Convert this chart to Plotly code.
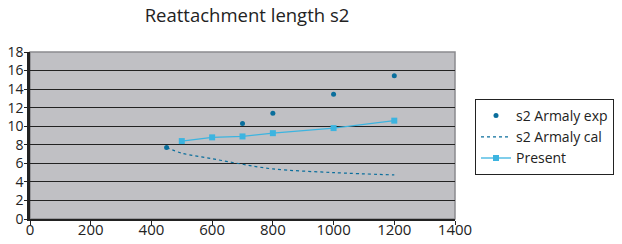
import plotly.graph_objects as go

exp_x = [450, 700, 800, 1000, 1200]
exp_y = [7.7, 10.3, 11.4, 13.45, 15.45]
cal_x = [450, 500, 600, 700, 800, 1000, 1200]
cal_y = [7.7, 7.1, 6.5, 5.9, 5.4, 5.0, 4.75]
pre_x = [500, 600, 700, 800, 1000, 1200]
pre_y = [8.4, 8.8, 8.9, 9.25, 9.8, 10.6]

x_ticks = [0, 200, 400, 600, 800, 1000, 1200, 1400]
y_ticks = [0, 2, 4, 6, 8, 10, 12, 14, 16, 18]

FONT = "Open Sans"
W, H = 614, 236  # page body adds an 8px margin
fig = go.Figure()
fig.add_trace(go.Scatter(x=exp_x, y=exp_y, mode="markers", name="s2 Armaly exp",
                         marker=dict(color="#0a6e9c", size=5, symbol="circle")))
fig.add_trace(go.Scatter(x=cal_x, y=cal_y, mode="lines", name="s2 Armaly cal",
                         line=dict(color="#0a6e9c", width=1.2, dash="dot", shape="spline")))
fig.add_trace(go.Scatter(x=pre_x, y=pre_y, mode="lines+markers", name="Present",
                         line=dict(color="#3cb4e0", width=1.3),
                         marker=dict(color="#3cb4e0", size=6, symbol="square")))

fig.update_layout(
    width=W, height=H,
    margin=dict(l=22, r=167, t=44, b=25),
    paper_bgcolor="white", plot_bgcolor="#c0c0c4",
    font=dict(family=FONT, size=15, color="#222222"),
    title=dict(text="Reattachment length s2", x=239/W, xanchor="center",
               yref="container", y=1 - 1/H, yanchor="top",
               font=dict(family=FONT, size=18.5, color="#222222")),
    legend=dict(xref="container", yref="container", x=467/W, y=1 - 91/H,
                xanchor="left", yanchor="top",
                bordercolor="#222222", borderwidth=1, bgcolor="white",
                font=dict(family=FONT, size=14, color="#222222"),
                itemwidth=30, tracegroupgap=0),
    showlegend=True,
)
fig.update_xaxes(range=[0, 1400], tickvals=x_ticks, ticktext=[str(v) for v in x_ticks],
                 showgrid=False, zeroline=False, showline=True, linecolor="#222222", linewidth=1.5,
                 ticks="outside", ticklen=4, tickcolor="#222222", automargin=False,
                 ticklabelstandoff=-8, tickfont=dict(family=FONT, size=15))
fig.update_yaxes(range=[0, 18], tickvals=y_ticks, ticktext=[str(v) for v in y_ticks],
                 showgrid=True, gridcolor="#222222", gridwidth=1, zeroline=False,
                 showline=True, linecolor="#222222", linewidth=2.5,
                 ticks="outside", ticklen=3, tickcolor="#222222", automargin=False,
                 ticklabelstandoff=-2, tickfont=dict(family=FONT, size=14))
fig.add_shape(type="rect", xref="paper", yref="paper", x0=0, y0=0, x1=1, y1=1,
              line=dict(color="#8a8a8e", width=1.5), layer="below")
fig.write_html("out.html")
